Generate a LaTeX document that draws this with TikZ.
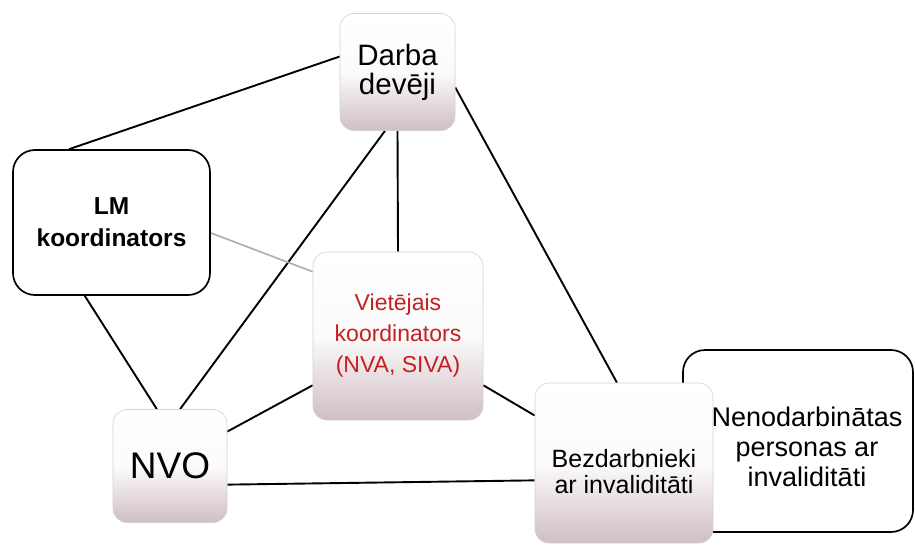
\documentclass[tikz,border=0pt]{standalone}
\usepackage{fontspec}
\setmainfont{Liberation Sans}
\usetikzlibrary{backgrounds}
\definecolor{boxbot}{RGB}{208,190,197}
\definecolor{redtxt}{RGB}{196,32,32}
\begin{document}
\begin{tikzpicture}[x=1pt,y=-1pt,
  shbox/.style={rectangle, rounded corners=14pt, draw=gray!35, line width=0.6pt,
    top color=white, bottom color=boxbot, middle color=white!94!boxbot,
    align=center, inner sep=0pt},
  wbox/.style={rectangle, rounded corners=22pt, draw=black, line width=1.7pt,
    fill=white, align=center, inner sep=0pt},
  link/.style={draw=black, line width=1.9pt},
  thinlink/.style={draw=gray!65, line width=1.6pt}]
\useasboundingbox (0,0) rectangle (915,546);

\node[wbox, minimum width=230pt, minimum height=182pt] (nenod) at (798,441) {};
\node[font=\fontsize{27}{30}\selectfont, align=center] (nenodtxt) at (807,447)
  {Nenodarbinātas\\personas ar\\invaliditāti};

\node[shbox, minimum width=115pt, minimum height=117pt,
  font=\fontsize{29.5}{29}\selectfont] (darba) at (397.5,72) {Darba\\devēji};
\node[wbox, minimum width=197pt, minimum height=145pt,
  font=\fontsize{24.5}{32}\selectfont\bfseries] (lm) at (111.5,222.5) {LM\\koordinators};
\node[shbox, minimum width=170pt, minimum height=168pt,
  font=\fontsize{23}{31}\selectfont, text=redtxt] (viet) at (398,336)
  {Vietējais\\koordinators\\(NVA, SIVA)};
\node[shbox, minimum width=114pt, minimum height=113pt,
  font=\fontsize{37}{37}\selectfont] (nvo) at (170,466) {NVO};
\node[shbox, minimum width=178pt, minimum height=160pt,
  font=\fontsize{25}{26}\selectfont] (bezd) at (624,463)
  {\rule{0pt}{36pt}Bezdarbnieki\\ar invaliditāti};

\begin{scope}[on background layer]
\fill[white] (0,0) rectangle (915,546);
\draw[link] (lm.120) -- (darba.165);
\draw[link] (darba.south) -- (viet.north);
\draw[link] (darba.258) -- (nvo.80);
\draw[link] (darba.-15) -- (bezd.95);
\draw[thinlink] (lm.-6) -- (viet.143);
\draw[link] (lm.250) -- (nvo.103);
\draw[link] (viet.210) -- (nvo.31);
\draw[link] (viet.-30) -- (bezd.152);
\draw[link] (nvo.-18) -- (bezd.191);
\end{scope}
\end{tikzpicture}
\end{document}
